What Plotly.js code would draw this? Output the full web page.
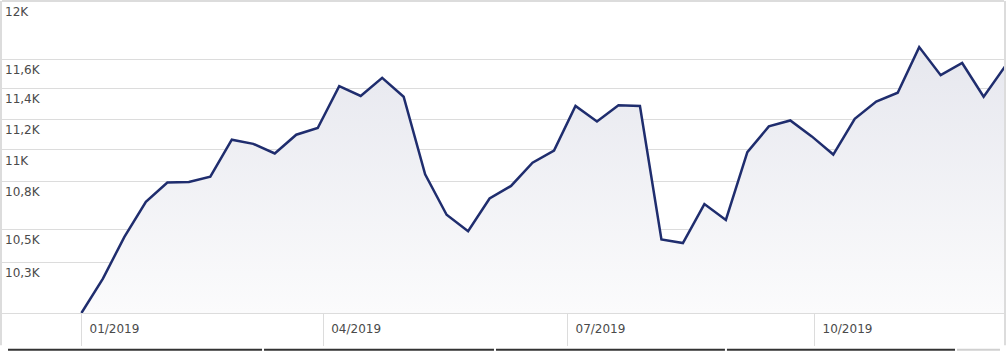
<!DOCTYPE html>
<html>
<head>
<meta charset="utf-8">
<script src="https://cdn.plot.ly/plotly-3.0.1.min.js"></script>
<style>
html,body{margin:0;padding:0;background:#fff;}
#chart{width:1006px;height:351px;}
</style>
</head>
<body>
<div id="chart"></div>
<script>
// Growth of 10,000
const dates = [
  '2019-01-01','2019-01-09','2019-01-17','2019-01-25','2019-02-02','2019-02-10','2019-02-18','2019-02-26',
  '2019-03-06','2019-03-14','2019-03-22','2019-03-30','2019-04-07','2019-04-15','2019-04-23','2019-05-01',
  '2019-05-09','2019-05-17','2019-05-25','2019-06-02','2019-06-10','2019-06-18','2019-06-26','2019-07-04',
  '2019-07-12','2019-07-20','2019-07-28','2019-08-05','2019-08-13','2019-08-21','2019-08-29','2019-09-06',
  '2019-09-14','2019-09-22','2019-09-30','2019-10-08','2019-10-16','2019-10-24','2019-11-01','2019-11-09',
  '2019-11-17','2019-11-25','2019-12-03','2019-12-11'
];
const values = [
  10000,10203,10455,10671,10792,10796,10829,11066,
  11039,10977,11098,11142,11418,11352,11473,11347,
  10844,10591,10490,10692,10771,10918,10996,11286,
  11184,11291,11286,10439,10417,10657,10559,10985,
  11152,11191,11087,10970,11202,11315,11374,11681,
  11491,11573,11347,11551
];
const yTickVals = [10300,10500,10800,11000,11200,11400,11600,12000];
const yTickText = ['10,3K','10,5K','10,8K','11K','11,2K','11,4K','11,6K','12K'];
const xTickVals = ['2019-01-01','2019-04-01','2019-07-01','2019-10-01'];
const xTickText = ['01/2019','04/2019','07/2019','10/2019'];

const trace = {
  x: dates, y: values, type: 'scatter', mode: 'lines',
  line: {color: '#1f2d6e', width: 2.5},
  fill: 'tozeroy',
  fillgradient: {type: 'vertical', start: 10000, stop: 11700,
                 colorscale: [[0, '#fbfbfc'], [1, '#e6e7ee']]},
  hoverinfo: 'skip'
};

const fnt = {family: 'DejaVu Sans, Verdana, sans-serif', size: 12, color: '#4a4a4a'};

const layout = {
  width: 1006, height: 351,
  margin: {l: 2, r: 2, t: 1, b: 38},
  paper_bgcolor: '#ffffff', plot_bgcolor: '#ffffff',
  showlegend: false,
  font: fnt,
  xaxis: {
    type: 'date',
    range: ['2018-12-02 10:00', '2019-12-10 14:00'],
    tickvals: xTickVals, ticktext: xTickText,
    showgrid: false, zeroline: false,
    showline: true, linecolor: '#dcdcdc', linewidth: 1,
    ticks: 'outside', ticklen: 32, tickcolor: '#dcdcdc', tickwidth: 1,
    ticklabelshift: 33, ticklabelstandoff: -27,
    tickfont: fnt
  },
  yaxis: {
    type: 'log',
    range: [Math.log10(10000), Math.log10(12000)],
    tickvals: yTickVals, ticktext: yTickText,
    showgrid: true, gridcolor: '#dcdcdc', gridwidth: 1,
    zeroline: false, showline: false, ticks: '',
    ticklabelposition: 'inside bottom',
    ticklabelshift: 2,
    tickfont: fnt
  },
  shapes: [
    {type: 'line', xref: 'paper', yref: 'paper', x0: 0, x1: 1, y0: 1, y1: 1, line: {color: '#dcdcdc', width: 2}},
    {type: 'line', xref: 'paper', yref: 'paper', x0: -0.001, x1: -0.001, y0: 1, y1: -0.103, line: {color: '#dcdcdc', width: 2}},
    {type: 'line', xref: 'paper', yref: 'paper', x0: 1.001, x1: 1.001, y0: 1, y1: -0.103, line: {color: '#dcdcdc', width: 2}},
    {type: 'line', xref: 'paper', yref: 'paper', x0: 0.006, x1: 0.2595, y0: -0.118, y1: -0.118, line: {color: '#333333', width: 2}},
    {type: 'line', xref: 'paper', yref: 'paper', x0: 0.2615, x1: 0.4910, y0: -0.118, y1: -0.118, line: {color: '#333333', width: 2}},
    {type: 'line', xref: 'paper', yref: 'paper', x0: 0.4930, x1: 0.7215, y0: -0.118, y1: -0.118, line: {color: '#333333', width: 2}},
    {type: 'line', xref: 'paper', yref: 'paper', x0: 0.7235, x1: 0.9511, y0: -0.118, y1: -0.118, line: {color: '#333333', width: 2}},
    {type: 'line', xref: 'paper', yref: 'paper', x0: 0.9531, x1: 0.996, y0: -0.118, y1: -0.118, line: {color: '#d0d0d0', width: 2}}
  ]
};

Plotly.newPlot('chart', [trace], layout, {staticPlot: true, displayModeBar: false});
</script>
</body>
</html>
